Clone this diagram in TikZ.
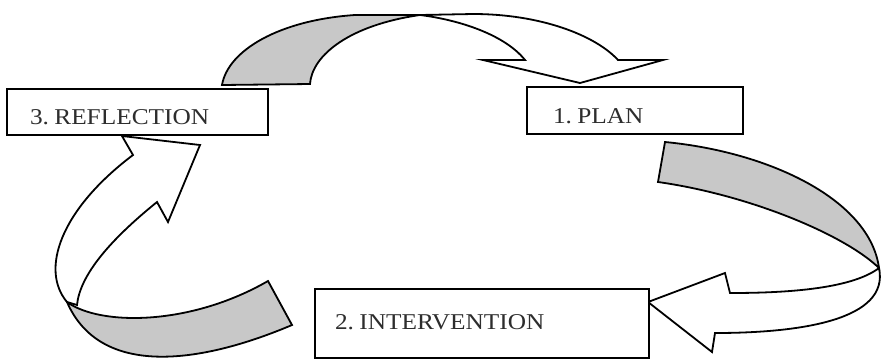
\documentclass[tikz,border=0pt]{standalone}
\usepackage{fontspec}
\setmainfont{Liberation Serif}[FakeStretch=1.12]
\usepackage{xcolor}
\usepackage{tikz}
\definecolor{CycleGray}{RGB}{200,200,200}
\definecolor{CycleText}{RGB}{45,45,45}
\newcommand\stagefont{\fontsize{22.6}{27}\selectfont}
\newcommand\tightspace{\frenchspacing\spaceskip=0.24em\relax\xspaceskip=0.24em\relax}

\begin{document}
\begin{tikzpicture}[
x=1pt, y=-1pt,
line join=miter,
band/.style={
draw=black,
fill=CycleGray,
line width=1.8pt
},
turn/.style={
draw=black,
fill=white,
line width=1.8pt
},
stage/.style={
draw=black,
fill=white,
line width=1.8pt,
align=left,
text depth=0pt,
text=CycleText,
font=\stagefont,
execute at begin node=\tightspace
}
]
\useasboundingbox (0,0) rectangle (883,360);

% reflection -> plan
\draw[band] (222,85) .. controls (228,50) and (280,20) .. (355,15)
  -- (420,15) .. controls (350,25) and (312,55) .. (310,84) -- cycle;
\draw[turn] (420,15) -- (473,14) .. controls (540,14) and (595,35) .. (618,60)
  -- (663,60) -- (580,83) -- (483,60) -- (525,60)
  .. controls (505,35) and (460,20) .. (420,15) -- cycle;

% plan -> intervention
\draw[turn] (879,268) .. controls (850,290) and (780,293) .. (730,293)
  -- (725,273) -- (648,302) -- (712,352) -- (715,333)
  .. controls (800,333) and (890,320) .. (879,268) -- cycle;
\draw[band] (665,142) .. controls (770,152) and (870,200) .. (879,268)
  .. controls (845,235) and (750,195) .. (658,182) -- cycle;

% intervention -> reflection
\draw[turn] (67,302) .. controls (40,270) and (60,210) .. (133,155)
  -- (122,136) -- (200,145) -- (168,222) -- (157,202)
  .. controls (110,240) and (80,275) .. (77,305) -- cycle;
\draw[band] (67,302) .. controls (100,326) and (190,326) .. (268,281)
  -- (292,325) .. controls (200,364) and (100,378) .. (67,302) -- cycle;

% stages
\node[stage, inner xsep=23pt, text width=215pt, minimum height=46pt, text height=24pt] (refl) at (137.5,112) {3. REFLECTION};
\node[stage, inner xsep=26pt, text width=164pt, minimum height=47pt, text height=25pt] (plan) at (635,110.5) {1. PLAN};
\node[stage, inner xsep=20pt, text width=294pt, minimum height=69pt, text height=11pt] (interv) at (482,323.5) {2. INTERVENTION};

\end{tikzpicture}
\end{document}
